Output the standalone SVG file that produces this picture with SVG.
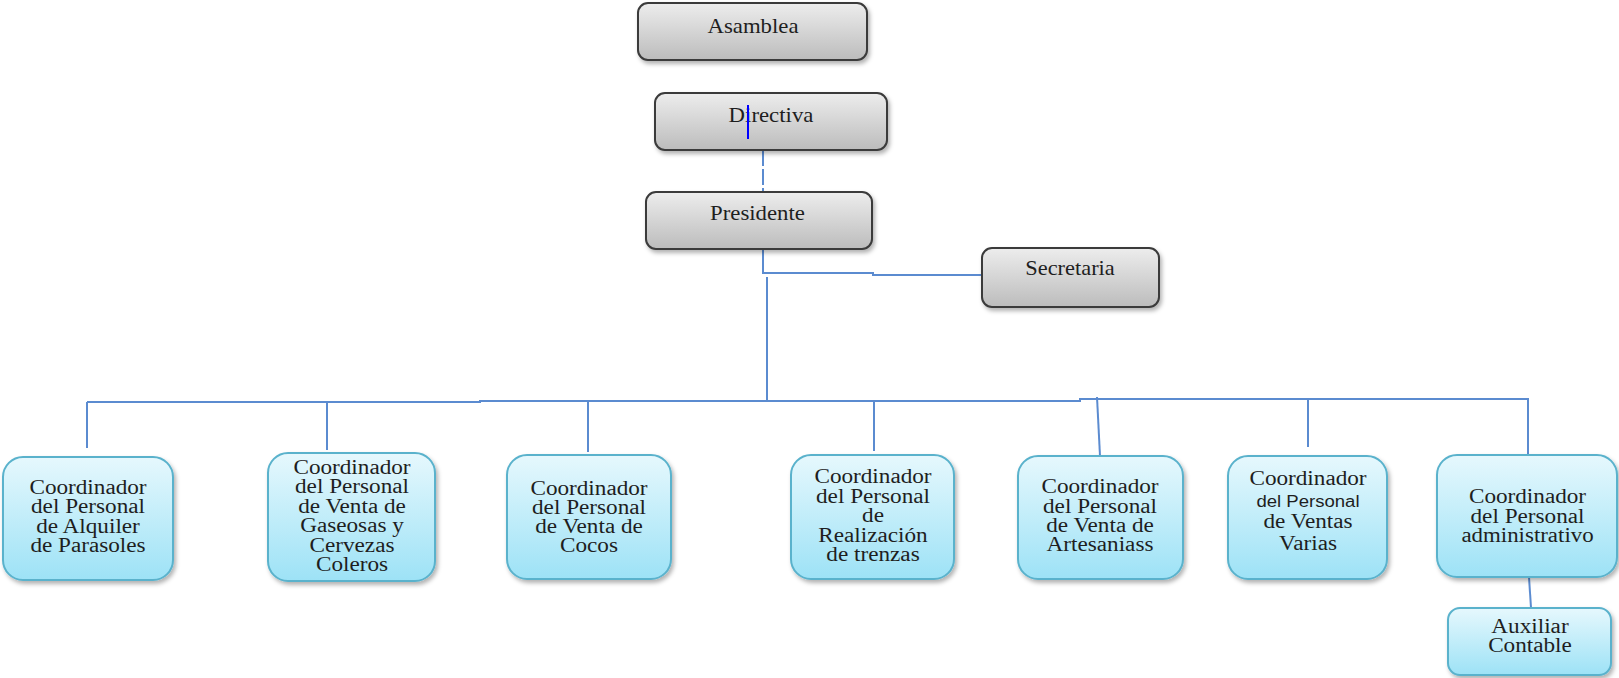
<svg xmlns="http://www.w3.org/2000/svg" width="1619" height="678" viewBox="0 0 1619 678">
<style>
.g{fill:url(#gg);stroke:#3a3a3a;stroke-width:2;filter:url(#sh)}
.b{fill:url(#bg);stroke:#5ab2cc;stroke-width:2;filter:url(#sh)}
.t{font-family:"Liberation Serif","Times New Roman",serif;font-size:20px;fill:#1e1e1e;text-anchor:middle}
.s{font-family:"Liberation Sans",Arial,sans-serif;font-size:16px}
.c{fill:none;stroke:#5b8bd0;stroke-width:2}
</style>
<defs>
<linearGradient id="gg" x1="0" y1="0" x2="0" y2="1"><stop offset="0" stop-color="#ededed"/><stop offset="1" stop-color="#bcbcbc"/></linearGradient>
<linearGradient id="bg" x1="0" y1="0" x2="0" y2="1"><stop offset="0" stop-color="#e6f8fd"/><stop offset="1" stop-color="#9de2f6"/></linearGradient>
<filter id="sh" x="-10%" y="-10%" width="125%" height="130%"><feDropShadow dx="2" dy="3" stdDeviation="2" flood-color="#000" flood-opacity="0.3"/></filter>
</defs>
<rect width="1619" height="678" fill="#fff"/>
<g id="connectors">
<path class="c" d="M763 150 V192" stroke-dasharray="16 3" stroke="#6a9bd8"/>
<path class="c" d="M763 249 V273 H873 V275 H982"/>
<path class="c" d="M767 277 V400"/>
<path class="c" d="M87 402 H480 V401 H1080 V399 H1528"/>
<path class="c" d="M87 402 V448"/>
<path class="c" d="M327 402 V450"/>
<path class="c" d="M588 401 V452"/>
<path class="c" d="M874 401 V451"/>
<path class="c" d="M1097 397 L1100 456"/>
<path class="c" d="M1308 399 V447"/>
<path class="c" d="M1528 398 V455"/>
<path class="c" d="M1529 577 L1531 608"/>
</g>
<g id="asamblea"><rect class="g" x="638" y="3" width="229" height="57" rx="10"/><text class="t" transform="translate(753 0) scale(1.14 1)" x="0" y="33">Asamblea</text></g>
<g id="directiva"><rect class="g" x="655" y="93" width="232" height="57" rx="10"/><text class="t" transform="translate(771 0) scale(1.14 1)" x="0" y="122">Directiva</text><path d="M748 105 V139" stroke="#0000ff" stroke-width="2"/></g>
<g id="presidente"><rect class="g" x="646" y="192" width="226" height="57" rx="10"/><text class="t" transform="translate(757.5 0) scale(1.14 1)" x="0" y="220">Presidente</text></g>
<g id="secretaria"><rect class="g" x="982" y="248" width="177" height="59" rx="10"/><text class="t" transform="translate(1070 0) scale(1.12 1)" x="0" y="275">Secretaria</text></g>
<g id="alquiler"><rect class="b" x="3" y="457" width="170" height="123" rx="20"/><text class="t" transform="translate(88 0) scale(1.16 1)"><tspan x="0" y="494">Coordinador</tspan><tspan x="0" y="513">del Personal</tspan><tspan x="0" y="533">de Alquiler</tspan><tspan x="0" y="552">de Parasoles</tspan></text></g>
<g id="gaseosas"><rect class="b" x="268" y="453" width="167" height="128" rx="20"/><text class="t" transform="translate(352 0) scale(1.16 1)"><tspan x="0" y="474">Coordinador</tspan><tspan x="0" y="493">del Personal</tspan><tspan x="0" y="513">de Venta de</tspan><tspan x="0" y="532">Gaseosas y</tspan><tspan x="0" y="552">Cervezas</tspan><tspan x="0" y="571">Coleros</tspan></text></g>
<g id="cocos"><rect class="b" x="507" y="455" width="164" height="124" rx="20"/><text class="t" transform="translate(589 0) scale(1.16 1)"><tspan x="0" y="495">Coordinador</tspan><tspan x="0" y="514">del Personal</tspan><tspan x="0" y="533">de Venta de</tspan><tspan x="0" y="552">Cocos</tspan></text></g>
<g id="trenzas"><rect class="b" x="791" y="455" width="163" height="124" rx="20"/><text class="t" transform="translate(873 0) scale(1.16 1)"><tspan x="0" y="483">Coordinador</tspan><tspan x="0" y="503">del Personal</tspan><tspan x="0" y="522">de</tspan><tspan x="0" y="542">Realización</tspan><tspan x="0" y="561">de trenzas</tspan></text></g>
<g id="artesanias"><rect class="b" x="1018" y="456" width="165" height="123" rx="20"/><text class="t" transform="translate(1100 0) scale(1.16 1)"><tspan x="0" y="493">Coordinador</tspan><tspan x="0" y="513">del Personal</tspan><tspan x="0" y="532">de Venta de</tspan><tspan x="0" y="551">Artesaniass</tspan></text></g>
<g id="ventas"><rect class="b" x="1228" y="456" width="159" height="123" rx="20"/><text class="t" transform="translate(1308 0) scale(1.16 1)"><tspan x="0" y="485">Coordinador</tspan><tspan class="s" x="0" y="507">del Personal</tspan><tspan x="0" y="528">de Ventas</tspan><tspan x="0" y="550">Varias</tspan></text></g>
<g id="administrativo"><rect class="b" x="1437" y="455" width="180" height="122" rx="20"/><text class="t" transform="translate(1527.5 0) scale(1.16 1)"><tspan x="0" y="503">Coordinador</tspan><tspan x="0" y="523">del Personal</tspan><tspan x="0" y="542" textLength="114" lengthAdjust="spacingAndGlyphs">administrativo</tspan></text></g>
<g id="auxiliar"><rect class="b" x="1448" y="608" width="163" height="67" rx="12"/><text class="t" transform="translate(1530 0) scale(1.16 1)"><tspan x="0" y="633">Auxiliar</tspan><tspan x="0" y="652">Contable</tspan></text></g>
</svg>
